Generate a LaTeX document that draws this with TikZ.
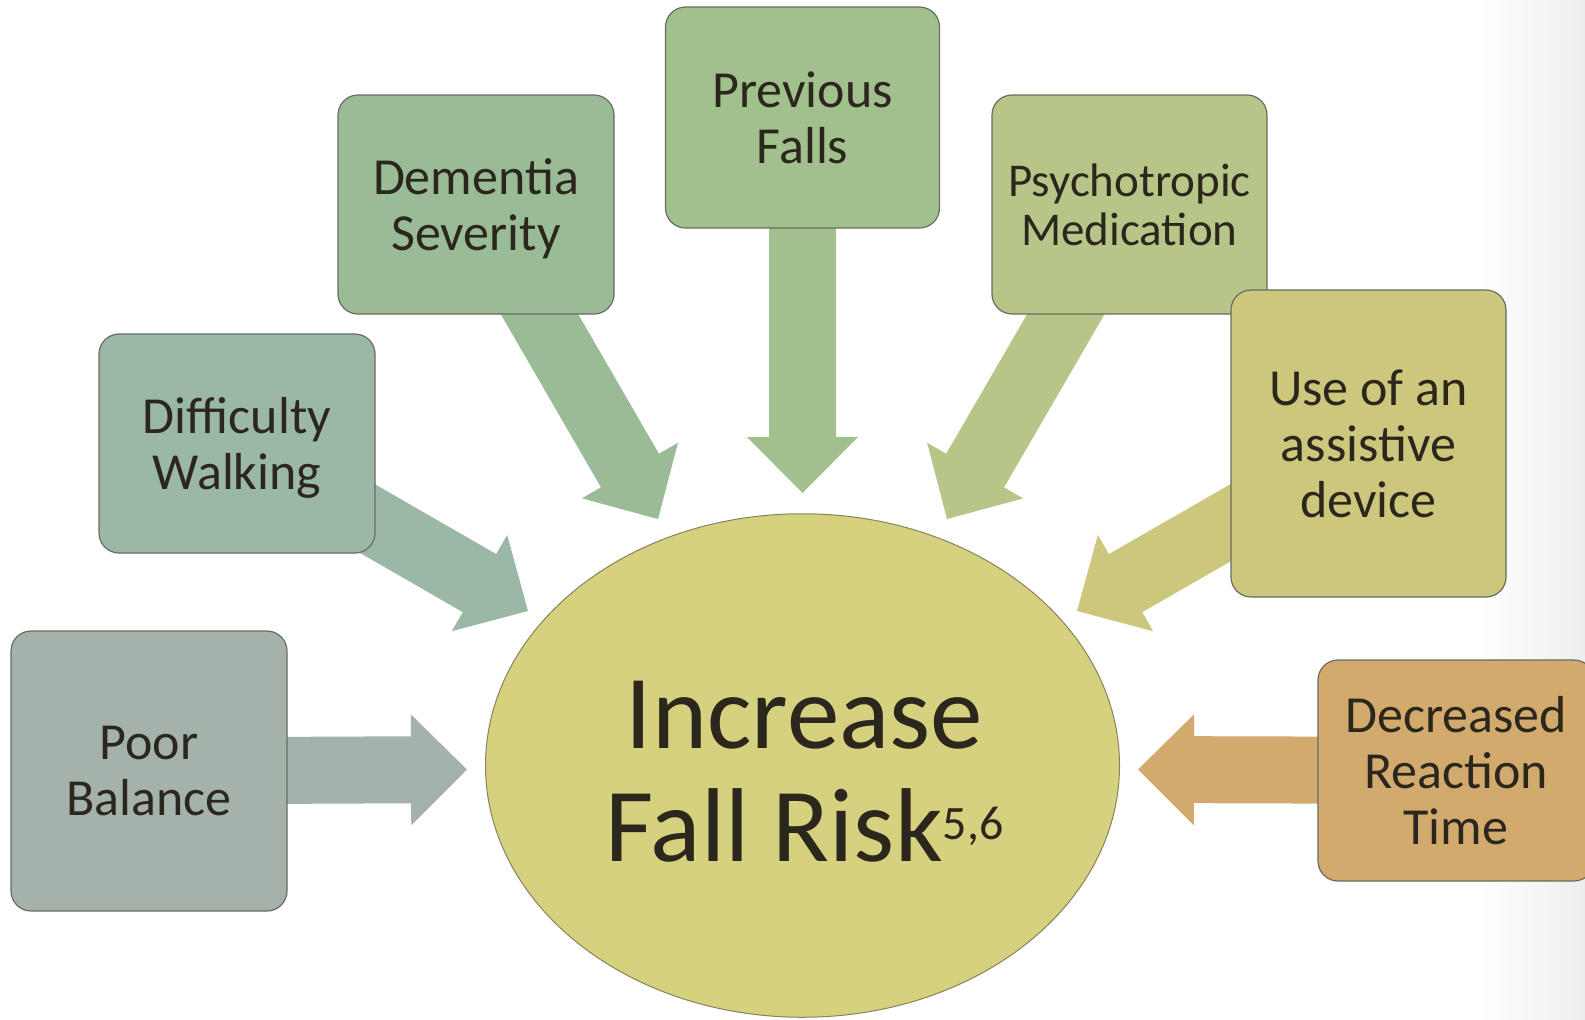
\documentclass[tikz,border=0pt]{standalone}
\usepackage{fontspec}
\setmainfont{Carlito}
\usetikzlibrary{calc,shapes.geometric,backgrounds}

\definecolor{ink}{RGB}{43,39,29}
\definecolor{boxline}{RGB}{105,108,95}
\definecolor{ringline}{RGB}{135,130,90}
\definecolor{cPB}{RGB}{165,178,172}
\definecolor{cDW}{RGB}{155,183,165}
\definecolor{cDS}{RGB}{153,187,150}
\definecolor{cPF}{RGB}{162,192,142}
\definecolor{cPM}{RGB}{183,197,137}
\definecolor{cUD}{RGB}{204,199,125}
\definecolor{cRT}{RGB}{210,170,110}
\definecolor{cFR}{RGB}{214,209,126}

% block arrow from the centre of a node to a tip coordinate
% #1 fill colour, #2 tail node, #3 tip coordinate
\newcommand\blockarrow[3]{%
  \coordinate (#2-neck) at ($(#3)!28pt!(#2.center)$);
  \fill[#1] ($(#2.center)!16.75pt!90:(#3)$)
    -- ($(#2-neck)!16.75pt!90:(#3)$)
    -- ($(#2-neck)!27.75pt!90:(#3)$)
    -- (#3)
    -- ($(#2-neck)!27.75pt!-90:(#3)$)
    -- ($(#2-neck)!16.75pt!-90:(#3)$)
    -- ($(#2.center)!16.75pt!-90:(#3)$)
    -- cycle;}

\tikzset{
  factor/.style={draw=boxline, line width=0.6pt, rounded corners=10pt,
    align=center, text=ink, inner sep=0pt, text depth=0pt,
    font=\fontsize{26}{28}\selectfont},
  risk/.style={ellipse, draw=ringline, line width=0.5pt, fill=cFR,
    inner sep=0pt},
  risktext/.style={align=center, text=ink, inner sep=0pt,
    font=\fontsize{52.5}{56.5}\selectfont}
}

\begin{document}
\begin{tikzpicture}[x=0.5pt,y=-0.5pt]
\useasboundingbox (0,0) rectangle (1585,1019);

% risk factors
\node[factor, fill=cPB, minimum width=138pt, minimum height=140pt] (pb) at (149,771) {Poor\\Balance};
\node[factor, fill=cDW, minimum width=138pt, minimum height=109.5pt] (dw) at (237,443.5) {Difficulty\\Walking};
\node[factor, fill=cDS, minimum width=138pt, minimum height=109.5pt] (ds) at (476,204.5) {Dementia\\Severity};
\node[factor, fill=cPF, minimum width=137pt, minimum height=110.5pt] (pf) at (802.5,117.5) {Previous\\Falls};
\node[factor, fill=cPM, minimum width=137.5pt, minimum height=109.5pt,
  font=\fontsize{23.5}{24.8}\selectfont] (pm) at (1129.5,204.5) {Psychotropic\\Medication};
\node[factor, fill=cUD, minimum width=137.5pt, minimum height=153.5pt] (ud) at (1368.5,443.5) {Use of an\\assistive\\device};
\node[factor, fill=cRT, minimum width=138pt, minimum height=110.5pt] (rt) at (1456,770.5) {Decreased\\Reaction\\Time};

% outcome
\node[risk, minimum width=317pt, minimum height=251.75pt] (fr) at (802.5,765.5) {};
\node[risktext] (frtext) at ($(fr.center)+(2,6)$)
  {Increase\\Fall Risk\raisebox{11pt}{\fontsize{24}{24}\selectfont 5,6}};

% arrow tips
\coordinate (pb-tip) at (467,769.5);
\coordinate (dw-tip) at (528,611);
\coordinate (ds-tip) at (658,519);
\coordinate (pf-tip) at (802.5,493);
\coordinate (pm-tip) at (947,519);
\coordinate (ud-tip) at (1077,611);
\coordinate (rt-tip) at (1138,769.5);

\begin{scope}[on background layer]
  \shade[left color=white, right color=black!7] (1480,0) rectangle (1585,1019);
  \blockarrow{cPB}{pb}{pb-tip}
  \blockarrow{cDW}{dw}{dw-tip}
  \blockarrow{cDS}{ds}{ds-tip}
  \blockarrow{cPF}{pf}{pf-tip}
  \blockarrow{cPM}{pm}{pm-tip}
  \blockarrow{cUD}{ud}{ud-tip}
  \blockarrow{cRT}{rt}{rt-tip}
\end{scope}
\end{tikzpicture}
\end{document}
